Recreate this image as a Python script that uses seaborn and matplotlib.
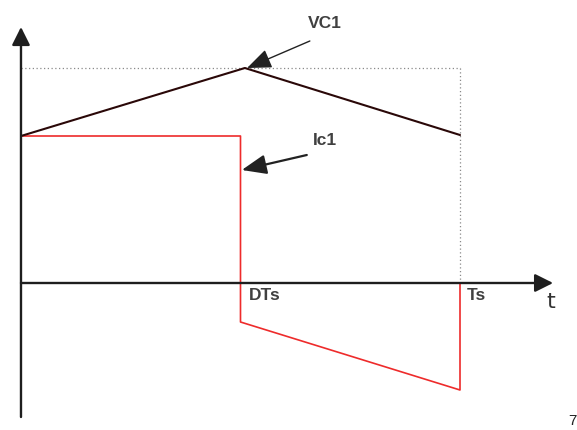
import matplotlib
matplotlib.use("Agg")
import matplotlib.pyplot as plt
from matplotlib.patches import ArrowStyle
import seaborn as sns
import pandas as pd

# Waveform data (time normalised to the switching period Ts = 1, duty D)
D = 0.5
t_vc1 = [0.0, 0.51, 1.0]
v_vc1 = [1.47, 2.15, 1.48]

t_ic1 = [0.0, D, D, 1.0, 1.0]
i_ic1 = [1.47, 1.47, -0.39, -1.07, 0.0]

tick_labels = ["DTs", "Ts"]
tick_pos = [D, 1.0]

sns.set_style("white")
plt.rcParams["font.family"] = ["Liberation Sans", "DejaVu Sans"]

fig = plt.figure(figsize=(5.77, 4.30), dpi=100)
ax = fig.add_axes([0, 0, 1, 1])
ax.set_xlim(-0.0478, 1.2665)
ax.set_ylim(-1.47, 2.83)
ax.axis("off")

# Reference lines for the peak and the period end
ax.plot([0, 1.0], [max(v_vc1), max(v_vc1)], color="#8a8a8a", lw=0.9,
        ls=(0, (1, 2)), zorder=1)
ax.plot([1.0, 1.0], [max(v_vc1), 0], color="#8a8a8a", lw=0.9,
        ls=(0, (1, 2)), zorder=1)

vc = pd.DataFrame({"t": t_vc1, "v": v_vc1})
ic = pd.DataFrame({"t": t_ic1, "i": i_ic1})
sns.lineplot(data=ic, x="t", y="i", sort=False, estimator=None,
             color="#ee2b2b", lw=1.2, ax=ax, zorder=3)
sns.lineplot(data=vc, x="t", y="v", sort=False, estimator=None,
             color="#2a0808", lw=1.5, ax=ax, zorder=4)

# Coordinate axes with arrow heads
axis_style = ArrowStyle("-|>", head_length=1.1, head_width=0.55)
ax.annotate("", xy=(0, 2.56), xytext=(0, -1.34),
            arrowprops=dict(arrowstyle=axis_style, mutation_scale=10,
                            color="#1e1e1e", lw=1.7, shrinkA=0, shrinkB=0),
            zorder=5)
ax.annotate("", xy=(1.212, 0), xytext=(0, 0),
            arrowprops=dict(arrowstyle=axis_style, mutation_scale=10,
                            color="#1e1e1e", lw=1.7, shrinkA=0, shrinkB=0),
            zorder=5)

lbl = dict(fontsize=12.5, fontweight="bold", color="#404040")
ax.text(0.519, -0.17, tick_labels[0], ha="left", va="baseline", **lbl)
ax.text(1.016, -0.17, tick_labels[1], ha="left", va="baseline", **lbl)
ax.text(1.196, -0.245, "t", ha="left", va="baseline", fontsize=16,
        color="#333333", family=["DejaVu Sans"])

# Signal name callouts
callout_style = ArrowStyle("-|>", head_length=1.5, head_width=0.6)
ax.annotate("", xy=(0.515, 2.15), xytext=(0.658, 2.42),
            arrowprops=dict(arrowstyle=callout_style,
                            mutation_scale=10, color="#222222", lw=1.0,
                            shrinkA=0, shrinkB=0), zorder=6)
ax.text(0.654, 2.55, "VC1", ha="left", va="baseline", **lbl)

ax.annotate("", xy=(0.503, 1.13), xytext=(0.651, 1.28),
            arrowprops=dict(arrowstyle=callout_style,
                            mutation_scale=10, color="#222222", lw=1.6,
                            shrinkA=0, shrinkB=0), zorder=6)
ax.text(0.665, 1.38, "Ic1", ha="left", va="baseline", **lbl)

ax.text(1.246, -1.42, "7", ha="left", va="baseline", fontsize=11,
        color="#222222")

fig.savefig("out.png", dpi=100)
